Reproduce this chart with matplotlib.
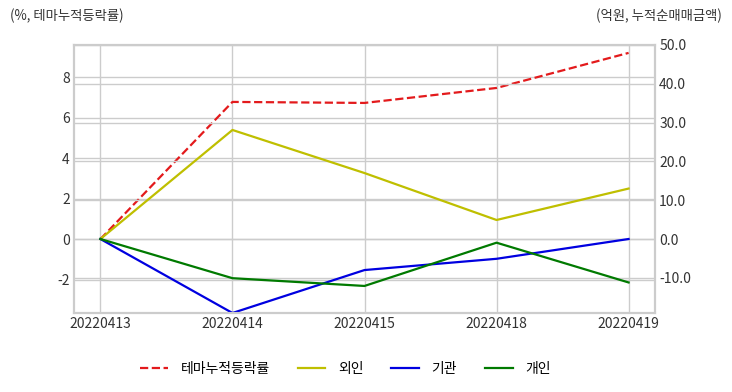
import matplotlib
matplotlib.use('Agg')
import matplotlib.pyplot as plt

dates = ['20220413', '20220414', '20220415', '20220418', '20220419']
theme = [0.0, 6.77, 6.72, 7.46, 9.19]
foreign = [0.0, 28.1, 17.0, 4.9, 13.0]
inst = [0.0, -19.07, -8.0, -5.1, 0.0]
indiv = [0.0, -10.1, -12.1, -0.95, -11.2]

plt.rcParams['font.family'] = ['Noto Sans CJK KR', 'DejaVu Sans']
plt.rcParams['axes.unicode_minus'] = False

fig = plt.figure(figsize=(7.32, 3.92), dpi=100)
ax = fig.add_axes([74 / 732, 1 - 313 / 392, (655 - 74) / 732, (313 - 45) / 392])
ax2 = ax.twinx()

x = range(len(dates))
l1, = ax.plot(x, theme, color='#e31a1c', ls='--', lw=1.6, label='테마누적등락률')
l2, = ax2.plot(x, foreign, color=(0.75, 0.75, 0), lw=1.6, label='외인')
l3, = ax2.plot(x, inst, color='#0000e0', lw=1.6, label='기관')
l4, = ax2.plot(x, indiv, color='#007a00', lw=1.6, label='개인')

ax.set_xlim(-0.2, 4.2)
ax.set_ylim(-3.65, 9.58)
ax2.set_ylim(-19.07, 50)
ax.set_xticks(list(x))
ax.set_xticklabels(dates)
ax.set_yticks([-2, 0, 2, 4, 6, 8])
ax2.set_yticks([-10, 0, 10, 20, 30, 40, 50])
ax2.set_yticklabels(['-10.0', '0.0', '10.0', '20.0', '30.0', '40.0', '50.0'])

for a in (ax, ax2):
    a.grid(True, color='#cccccc', lw=1)
    a.set_axisbelow(True)
    a.tick_params(length=0, labelsize=10, colors='#333333', pad=3)
    for s in a.spines.values():
        s.set_color('#cccccc')
        s.set_linewidth(1.5)
ax2.grid(True, axis='y', color='#cccccc', lw=1)
ax2.xaxis.grid(False)

fig.text(10 / 732, 1 - 16 / 392, '(%, 테마누적등락률)', fontsize=9.6, color='#333333', va='center', ha='left')
fig.text(722 / 732, 1 - 16 / 392, '(억원, 누적순매매금액)', fontsize=9.6, color='#333333', va='center', ha='right')

fig.legend(handles=[l1, l2, l3, l4], loc='center', bbox_to_anchor=(0.472, 1 - 369 / 392),
           ncol=4, frameon=False, fontsize=10, handlelength=2, handletextpad=0.9, columnspacing=2.0)

fig.savefig('out.png', dpi=100, facecolor='white')
